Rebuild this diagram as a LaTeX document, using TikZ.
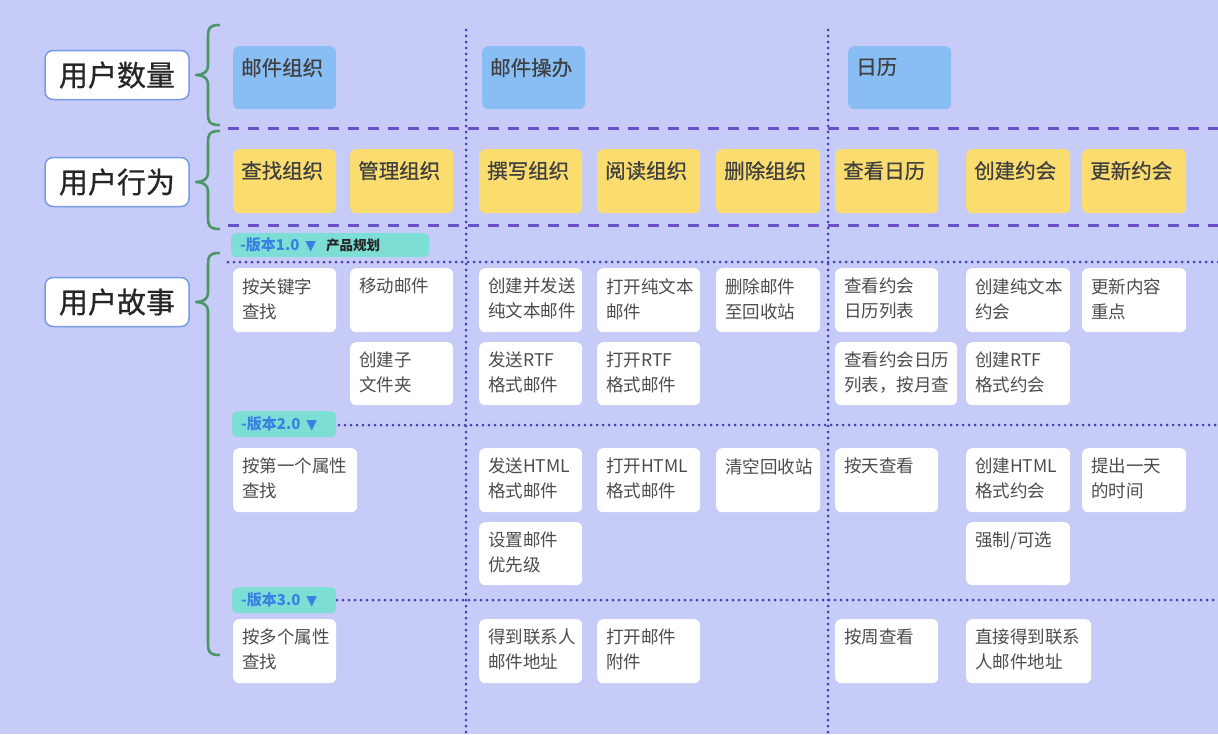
\documentclass[tikz,border=0pt]{standalone}
\usepackage{fontspec}
\setmainfont{Noto Sans CJK SC}
\newfontfamily\boldish[FakeBold=0.7]{Noto Sans CJK SC}
\newfontfamily\dejavu{DejaVu Sans}
\definecolor{bg}{RGB}{198,203,248}
\definecolor{bluebox}{RGB}{137,190,245}
\definecolor{yellowbox}{RGB}{250,221,110}
\definecolor{tagfill}{RGB}{124,222,212}
\definecolor{tagtext}{RGB}{58,128,228}
\definecolor{dashcol}{RGB}{105,80,200}
\definecolor{dotcol}{RGB}{72,62,175}
\definecolor{bracecol}{RGB}{74,150,105}
\definecolor{labelborder}{RGB}{120,155,230}
\tikzset{
  lbl/.style={draw=labelborder, line width=1.5pt, fill=white, rounded corners=8pt, minimum width=144pt, minimum height=49pt, inner sep=0pt, font=\boldish\fontsize{29}{34}\selectfont, text=black!85},
  theme/.style={fill=bluebox, rounded corners=6pt, anchor=north west, inner sep=0pt},
  act/.style={fill=yellowbox, rounded corners=6pt, anchor=north west, inner sep=0pt},
  story/.style={fill=white, rounded corners=6pt, anchor=north west, inner sep=0pt},
  htxt/.style={anchor=north west, inner sep=0pt, xshift=8pt, yshift=-12pt, font=\boldish\fontsize{20.5}{25}\selectfont, text=black!75},
  stxt/.style={anchor=north west, inner sep=0pt, xshift=9pt, yshift=-10pt, align=left, font=\fontsize{17.5}{25}\selectfont, text=black!70},
  tag/.style={fill=tagfill, rounded corners=5pt, anchor=north west, inner sep=0pt},
  tagtxt/.style={anchor=west, inner sep=0pt, xshift=9pt, font=\bfseries\fontsize{15}{18}\selectfont, text=tagtext},
  dashline/.style={draw=dashcol, line width=3pt, dash pattern=on 11pt off 9pt},
  dotline/.style={draw=dotcol, line width=3pt, line cap=round, dash pattern=on 0pt off 6pt},
  bracepath/.style={draw=bracecol, line width=2.6pt, line cap=round, line join=round}
}
\newcommand{\bx}[8]{\node[#2, minimum width=#6pt, minimum height=#7pt] (#1) at (#4,#5) {}; \node[#3] (#1t) at (#1.north west) {#8};}
\newcommand{\brc}[4]{% top y, tip y, bottom y, name
  \coordinate (#4a) at (219,#1);
  \coordinate (#4tip) at (196,#2);
  \coordinate (#4b) at (219,#3);
  \draw[bracepath] (#4a) .. controls (209,#1) and (208,#1+4) .. (208,#1+11) -- (208,#2-9) .. controls (208,#2-3) and (203,#2) .. (#4tip) .. controls (203,#2) and (208,#2+3) .. (208,#2+9) -- (208,#3-11) .. controls (208,#3-4) and (209,#3) .. (#4b);}
\begin{document}
\begin{tikzpicture}[x=1pt,y=-1pt]
\useasboundingbox (0,0) rectangle (1218,734);
\fill[bg] (0,0) rectangle (1218,734);

% column dotted separators
\draw[dotline] (466,30) -- (466,734);
\draw[dotline] (828,30) -- (828,734);
% release dotted lines
\draw[dotline] (228,262) -- (1218,262);
\draw[dotline] (339,425) -- (1218,425);
\draw[dotline] (337,600) -- (1218,600);
% dashed row separators
\draw[dashline] (228,128) -- (1218,128);
\draw[dashline] (228,225) -- (1218,225);

% left labels
\node[lbl] (L1) at (117,75) {用户数量};
\node[lbl] (L2) at (117,182) {用户行为};
\node[lbl] (L3) at (117,302) {用户故事};

% braces
\brc{25}{75}{125}{b1}
\brc{131}{182}{229}{b2}
\brc{253}{302}{655}{b3}

% themes
\bx{T1}{theme}{htxt}{233}{46}{103}{63}{邮件组织}
\bx{T2}{theme}{htxt}{482}{46}{103}{63}{邮件操办}
\bx{T3}{theme}{htxt}{848}{46}{103}{63}{日历}

% activities
\bx{A1}{act}{htxt}{233}{149}{103}{64}{查找组织}
\bx{A2}{act}{htxt}{350}{149}{103}{64}{管理组织}
\bx{A3}{act}{htxt}{479}{149}{103}{64}{撰写组织}
\bx{A4}{act}{htxt}{597}{149}{103}{64}{阅读组织}
\bx{A5}{act}{htxt}{716}{149}{104}{64}{删除组织}
\bx{A6}{act}{htxt}{835}{149}{103}{64}{查看日历}
\bx{A7}{act}{htxt}{966}{149}{104}{64}{创建约会}
\bx{A8}{act}{htxt}{1082}{149}{104}{64}{更新约会}

% release tags
\node[tag, minimum width=198pt, minimum height=24pt] (R1) at (231,233) {};
\node[tagtxt] (R1t) at (R1.west) {-版本1.0\hspace{6pt}{\dejavu\fontsize{14}{16}\selectfont ▼}\hspace{10pt}{\color{black!85}\fontsize{13.5}{16}\selectfont 产品规划}};
\node[tag, minimum width=104pt, minimum height=26pt] (R2) at (232,411) {};
\node[tagtxt] (R2t) at (R2.west) {-版本2.0\hspace{6pt}{\dejavu\fontsize{14}{16}\selectfont ▼}};
\node[tag, minimum width=104pt, minimum height=26pt] (R3) at (232,587) {};
\node[tagtxt] (R3t) at (R3.west) {-版本3.0\hspace{6pt}{\dejavu\fontsize{14}{16}\selectfont ▼}};

% stories release 1
\bx{S11}{story}{stxt}{233}{268}{103}{64}{按关键字\\查找}
\bx{S12}{story}{stxt}{350}{268}{103}{64}{移动邮件}
\bx{S13}{story}{stxt}{479}{268}{103}{64}{创建并发送\\纯文本邮件}
\bx{S14}{story}{stxt}{597}{268}{103}{64}{打开纯文本\\邮件}
\bx{S15}{story}{stxt}{716}{268}{104}{64}{删除邮件\\至回收站}
\bx{S16}{story}{stxt}{835}{268}{103}{64}{查看约会\\日历列表}
\bx{S17}{story}{stxt}{966}{268}{104}{64}{创建纯文本\\约会}
\bx{S18}{story}{stxt}{1082}{268}{104}{64}{更新内容\\重点}
\bx{S22}{story}{stxt}{350}{342}{103}{63}{创建子\\文件夹}
\bx{S23}{story}{stxt}{479}{342}{103}{63}{发送RTF\\格式邮件}
\bx{S24}{story}{stxt}{597}{342}{103}{63}{打开RTF\\格式邮件}
\bx{S26}{story}{stxt}{835}{342}{122}{63}{查看约会日历\\列表，按月查}
\bx{S27}{story}{stxt}{966}{342}{104}{63}{创建RTF\\格式约会}

% stories release 2
\bx{S31}{story}{stxt}{233}{448}{124}{64}{按第一个属性\\查找}
\bx{S33}{story}{stxt}{479}{448}{103}{64}{发送HTML\\格式邮件}
\bx{S34}{story}{stxt}{597}{448}{103}{64}{打开HTML\\格式邮件}
\bx{S35}{story}{stxt}{716}{448}{104}{64}{清空回收站}
\bx{S36}{story}{stxt}{835}{448}{103}{64}{按天查看}
\bx{S37}{story}{stxt}{966}{448}{104}{64}{创建HTML\\格式约会}
\bx{S38}{story}{stxt}{1082}{448}{104}{64}{提出一天\\的时间}
\bx{S43}{story}{stxt}{479}{522}{103}{63}{设置邮件\\优先级}
\bx{S47}{story}{stxt}{966}{522}{104}{63}{强制/可选}

% stories release 3
\bx{S51}{story}{stxt}{233}{619}{103}{64}{按多个属性\\查找}
\bx{S53}{story}{stxt}{479}{619}{103}{64}{得到联系人\\邮件地址}
\bx{S54}{story}{stxt}{597}{619}{103}{64}{打开邮件\\附件}
\bx{S56}{story}{stxt}{835}{619}{103}{64}{按周查看}
\bx{S57}{story}{stxt}{966}{619}{125}{64}{直接得到联系\\人邮件地址}
\end{tikzpicture}
\end{document}
